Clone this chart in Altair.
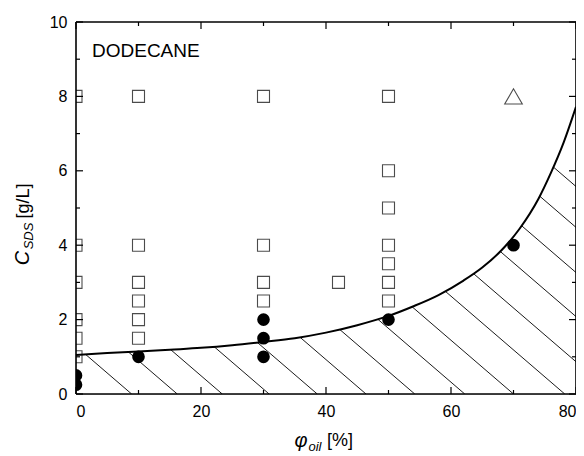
import altair as alt
import pandas as pd

# ---- data ----
sq_x = [0, 0, 0, 0, 0, 0,
        10, 10, 10, 10, 10, 10,
        30, 30, 30, 30,
        42,
        50, 50, 50, 50, 50, 50, 50]
sq_y = [8, 4, 3, 2, 1.5, 1,
        8, 4, 3, 2.5, 2, 1.5,
        8, 4, 3, 2.5,
        3,
        8, 6, 5, 4, 3.5, 3, 2.5]

dot_x = [0, 0, 10, 30, 30, 30, 50, 70]
dot_y = [0.5, 0.25, 1, 2, 1.5, 1, 2, 4]

tri_x = [70]
tri_y = [8]

curve_x = [0, 5, 10, 15, 20, 25, 30, 35, 40, 45, 50, 54, 58, 62, 65, 68, 71, 74, 76, 78, 80]
curve_y = [1.05, 1.10, 1.14, 1.19, 1.24, 1.31, 1.40, 1.50, 1.65, 1.85, 2.10, 2.36, 2.66,
           3.05, 3.40, 3.85, 4.45, 5.25, 5.95, 6.75, 7.72]

# hatch lines: x-intercept at C=0 and slope (dC/dphi, negative)
hatch_b = [8.9, 16.2, 23.4, 30.9, 38.6, 46.4, 54.2, 62.2, 70.0, 78.2,
           86.0, 94.4, 102.6, 111.0, 118.6]
hatch_slope = 0.1445

x_major = [0, 20, 40, 60, 80]
x_minor = [10, 30, 50, 70]
y_major = [0, 2, 4, 6, 8, 10]
y_minor = [1, 3, 5, 7, 9]

W, H = 500, 372
FONT = "Liberation Sans, Arial, sans-serif"

xs = alt.Scale(domain=[0, 80], nice=False, zero=False)
ys = alt.Scale(domain=[0, 10], nice=False, zero=False)

squares = pd.DataFrame({"x": sq_x, "y": sq_y})
dots = pd.DataFrame({"x": dot_x, "y": dot_y})
tris = pd.DataFrame({"x": tri_x, "y": tri_y})
curve = pd.DataFrame({"x": curve_x, "y": curve_y, "top": [10] * len(curve_x)})
hatch = pd.DataFrame({
    "x": hatch_b,
    "y": [0] * len(hatch_b),
    "x2": [b - 10 / hatch_slope for b in hatch_b],
    "y2": [10] * len(hatch_b),
})
one = pd.DataFrame({"a": [0]})

base_axes = alt.Chart(pd.DataFrame({"x": [0], "y": [0]})).mark_point(opacity=0).encode(
    x=alt.X("x:Q", scale=xs,
            axis=alt.Axis(values=x_major, title=None, ticks=False, domain=False, grid=False,
                          labelFontSize=16, labelFont=FONT, labelColor="black",
                          labelPadding=9, format="d")),
    y=alt.Y("y:Q", scale=ys,
            axis=alt.Axis(values=y_major, title=None, ticks=False, domain=False, grid=False,
                          labelFontSize=16, labelFont=FONT, labelColor="black",
                          labelPadding=9, format="d")),
)

hatch_layer = alt.Chart(hatch).mark_rule(color="black", strokeWidth=0.9, clip=True).encode(
    x=alt.X("x:Q", scale=xs), y=alt.Y("y:Q", scale=ys),
    x2="x2:Q", y2="y2:Q",
)

mask = alt.Chart(curve).mark_area(color="white", opacity=1, clip=True,
                                  interpolate="monotone").encode(
    x=alt.X("x:Q", scale=xs), y=alt.Y("y:Q", scale=ys), y2="top:Q",
)

curve_line = alt.Chart(curve).mark_line(color="black", strokeWidth=2, interpolate="monotone",
                                        clip=True).encode(
    x=alt.X("x:Q", scale=xs), y=alt.Y("y:Q", scale=ys),
)

sq_layer = alt.Chart(squares).mark_point(shape="square", size=144, filled=False,
                                         color="black", strokeWidth=1.1, clip=True).encode(
    x=alt.X("x:Q", scale=xs), y=alt.Y("y:Q", scale=ys),
)

dot_layer = alt.Chart(dots).mark_point(shape="circle", size=160, filled=True,
                                       color="black", opacity=1, clip=True).encode(
    x=alt.X("x:Q", scale=xs), y=alt.Y("y:Q", scale=ys),
)

tri_layer = alt.Chart(tris).mark_point(shape="triangle-up", size=310, filled=False,
                                       color="black", strokeWidth=1.1, clip=True).encode(
    x=alt.X("x:Q", scale=xs), y=alt.Y("y:Q", scale=ys),
)

# frame and inward ticks on all four sides
frame = (
    alt.Chart(one).mark_rule(color="black", strokeWidth=1.6).encode(
        x=alt.value(0), x2=alt.value(W), y=alt.value(0))
    + alt.Chart(one).mark_rule(color="black", strokeWidth=1.6).encode(
        x=alt.value(0), x2=alt.value(W), y=alt.value(H))
    + alt.Chart(one).mark_rule(color="black", strokeWidth=1.6).encode(
        y=alt.value(0), y2=alt.value(H), x=alt.value(0))
    + alt.Chart(one).mark_rule(color="black", strokeWidth=1.6).encode(
        y=alt.value(0), y2=alt.value(H), x=alt.value(W))
)

def xticks(vals, length):
    d = pd.DataFrame({"x": vals})
    b = alt.Chart(d).mark_rule(color="black", strokeWidth=1.2).encode(
        x=alt.X("x:Q", scale=xs), y=alt.value(H), y2=alt.value(H - length))
    t = alt.Chart(d).mark_rule(color="black", strokeWidth=1.2).encode(
        x=alt.X("x:Q", scale=xs), y=alt.value(0), y2=alt.value(length))
    return b + t

def yticks(vals, length):
    d = pd.DataFrame({"y": vals})
    l = alt.Chart(d).mark_rule(color="black", strokeWidth=1.2).encode(
        y=alt.Y("y:Q", scale=ys), x=alt.value(0), x2=alt.value(length))
    r = alt.Chart(d).mark_rule(color="black", strokeWidth=1.2).encode(
        y=alt.Y("y:Q", scale=ys), x=alt.value(W), x2=alt.value(W - length))
    return l + r

ticks = xticks(x_major, 7) + xticks(x_minor, 4) + yticks(y_major, 7) + yticks(y_minor, 4)


def label(text, x, y, size, italic=False, angle=0, align="center", baseline="middle"):
    kw = dict(text=text, fontSize=size, font=FONT, color="black", align=align,
              baseline=baseline)
    if italic:
        kw["fontStyle"] = "italic"
    if angle:
        kw["angle"] = angle
    return alt.Chart(one).mark_text(**kw).encode(x=alt.value(x), y=alt.value(y))

texts = (
    label("DODECANE", 16, 35, 19, align="left", baseline="alphabetic")
    + label("C", -53, 236, 20, italic=True, angle=270)
    + label("SDS", -47, 214, 13, italic=True, angle=270)
    + label("[g/L]", -52, 179, 18, angle=270)
    + label("φ", 225, 419, 20, italic=True)
    + label("oil", 239, 425, 13, italic=True)
    + label("[%]", 264, 419, 18)
)

chart = alt.layer(
    base_axes, hatch_layer, mask, curve_line, sq_layer, dot_layer, tri_layer,
    frame, ticks, texts
).properties(
    width=W, height=H,
    autosize=alt.AutoSizeParams(type="none"),
    padding={"left": 68, "top": 14, "right": 0, "bottom": 60},
).configure_view(stroke=None).configure(background="white")

chart.save("out.html", embed_options={"renderer": "svg", "actions": False})
